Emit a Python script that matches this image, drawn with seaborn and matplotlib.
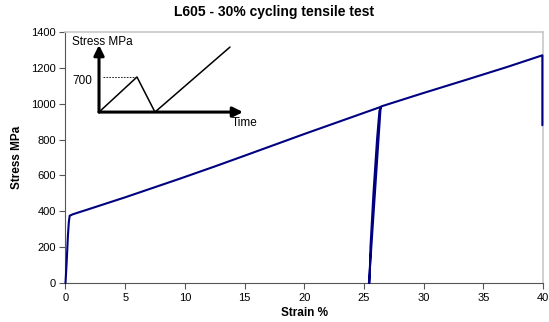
import matplotlib
matplotlib.use("Agg")
import matplotlib.pyplot as plt
import seaborn as sns
import pandas as pd

# ---- data ----
strain = [0.0, 0.1, 0.2, 0.28, 0.35, 0.6, 2.0, 5.0, 9.5, 12.5, 15.0, 20.0, 26.4,
          25.42, 25.47, 25.55, 25.8, 26.1, 26.3, 26.45,
          30.0, 33.5, 37.0, 39.95, 39.95]
stress = [0, 120, 260, 340, 375, 383, 413, 478, 580, 650, 710, 831, 982,
          0, 0, 200, 500, 800, 960, 985,
          1060, 1132, 1205, 1270, 880]

xticks = [0, 5, 10, 15, 20, 25, 30, 35, 40]
yticks = [0, 200, 400, 600, 800, 1000, 1200, 1400]

title = "L605 - 30% cycling tensile test"
xlabel = "Strain %"
ylabel = "Stress MPa"

df = pd.DataFrame({"strain": strain, "stress": stress})

sns.set_style("white")
plt.rcParams["font.family"] = ["Liberation Sans", "DejaVu Sans"]
plt.rcParams["text.color"] = "black"
plt.rcParams["axes.labelcolor"] = "black"
plt.rcParams["xtick.color"] = "black"
plt.rcParams["ytick.color"] = "black"

fig = plt.figure(figsize=(5.49, 3.22), dpi=100)
ax = fig.add_axes([0.1193, 0.1211, 0.8697, 0.7795])

sns.lineplot(data=df, x="strain", y="stress", sort=False, estimator=None,
             color="#000080", linewidth=1.5, ax=ax)
for ln in ax.lines:
    ln.set_zorder(3)
    ln.set_clip_on(False)

ax.set_xlim(0, 40)
ax.set_ylim(0, 1400)
ax.set_xticks(xticks)
ax.set_yticks(yticks)
ax.tick_params(axis="both", labelsize=8, length=4, width=0.8,
               direction="out", bottom=True, left=True, pad=3,
               color="#555555", labelcolor="black")

for s in ["left", "bottom"]:
    ax.spines[s].set_color("#555555")
    ax.spines[s].set_linewidth(0.8)
for s in ["top", "right"]:
    ax.spines[s].set_color("#c8c8c8")
    ax.spines[s].set_linewidth(1.2)

ax.set_xlabel(xlabel, fontsize=8.5, fontweight="bold", labelpad=3)
ax.set_ylabel(ylabel, fontsize=8.5, fontweight="bold", labelpad=6)
fig.suptitle(title, x=0.5, y=0.985, fontsize=10, fontweight="bold", va="top")

# ---- schematic inset (annotation in axes fractions) ----
T = ax.transAxes
ox, oy = 0.0702, 0.681
arrow_kw = dict(arrowstyle="-|>,head_length=0.6,head_width=0.3", color="black",
                lw=2.2, shrinkA=0, shrinkB=0)
ax.annotate("", xy=(ox, 0.948), xytext=(ox, oy), xycoords=T, textcoords=T,
            arrowprops=arrow_kw)
ax.annotate("", xy=(0.3717, oy), xytext=(ox, oy), xycoords=T, textcoords=T,
            arrowprops=arrow_kw)
ax.plot([ox, 0.1497, 0.1874, 0.3445], [oy, 0.8207, oy, 0.940],
        color="black", lw=1.1, transform=T)
ax.plot([0.0785, 0.1497], [0.8207, 0.8207], color="black", lw=0.6,
        ls=(0, (2, 1.5)), transform=T)
ax.text(0.0136, 0.960, "Stress MPa", transform=T, fontsize=8.5,
        va="center", ha="left")
ax.text(0.0136, 0.805, "700", transform=T, fontsize=8.5, va="center", ha="left")
ax.text(0.3487, 0.637, "Time", transform=T, fontsize=8.5, va="center", ha="left")

fig.savefig("out.png", dpi=100)
